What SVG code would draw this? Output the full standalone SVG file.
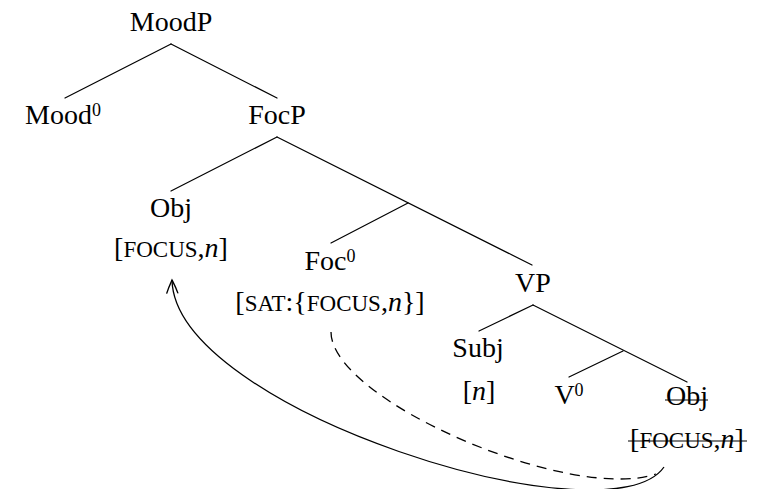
<svg xmlns="http://www.w3.org/2000/svg" width="759" height="489" viewBox="0 0 759 489">
  <style>
    text { font-family: "Liberation Serif", "Times New Roman", serif; font-size: 28px; fill: #000; text-anchor: middle; }
    .sc { font-size: 23px; }
    .it { font-style: italic; }
    .sup { font-size: 18px; }
    .edge { stroke: #000; stroke-width: 1.2; fill: none; stroke-linecap: round; }
    .strike { stroke: #000; stroke-width: 1.1; }
    .move { stroke: #000; stroke-width: 1.3; fill: none; }
    .dash { stroke-dasharray: 10 7; }
  </style>
  <defs>
    <marker id="arrow" markerUnits="userSpaceOnUse" viewBox="-15 -8 17 16" refX="0" refY="0" markerWidth="17" markerHeight="16" orient="auto">
      <path d="M-13,-5.5 C-7,-3.5 -2.5,-1.2 0,0 C-2.5,1.2 -7,3.5 -13,5.5" fill="none" stroke="#000" stroke-width="1.4" stroke-linecap="round"/>
    </marker>
  </defs>
  <rect width="759" height="489" fill="#fff"/>

  <g id="connectors">
    <line class="edge" x1="171" y1="44" x2="65" y2="98"/>
    <line class="edge" x1="171" y1="44" x2="277" y2="98"/>
    <line class="edge" x1="277" y1="137" x2="171" y2="191"/>
    <line class="edge" x1="277" y1="137" x2="532" y2="265"/>
    <line class="edge" x1="408" y1="203" x2="331" y2="243"/>
    <line class="edge" x1="533" y1="305" x2="479" y2="331"/>
    <line class="edge" x1="533" y1="305" x2="687" y2="382"/>
    <line class="edge" x1="623" y1="351" x2="569" y2="377"/>
    <path class="move" d="M664,467 C610,545 175,410 172,280" marker-end="url(#arrow)"/>
    <path class="move dash" d="M331,332 C331,400 570,503 656,474"/>
  </g>

  <g id="MoodP"><text x="171" y="31">MoodP</text></g>
  <g id="Mood0"><text x="63" y="124">Mood<tspan class="sup" dy="-8">0</tspan></text></g>
  <g id="FocP"><text x="277" y="124">FocP</text></g>
  <g id="Obj">
    <text x="171" y="217">Obj</text>
    <text x="171" y="257">[<tspan class="sc">FOCUS</tspan>,<tspan class="it">n</tspan>]</text>
  </g>
  <g id="Foc0">
    <text x="330" y="270">Foc<tspan class="sup" dy="-8">0</tspan></text>
    <text x="330" y="311">[<tspan class="sc">SAT</tspan>:{<tspan class="sc">FOCUS</tspan>,<tspan class="it">n</tspan>}]</text>
  </g>
  <g id="VP"><text x="533" y="292">VP</text></g>
  <g id="Subj">
    <text x="478" y="357">Subj</text>
    <text x="479" y="400">[<tspan class="it">n</tspan>]</text>
  </g>
  <g id="V0"><text x="569" y="404">V<tspan class="sup" dy="-8">0</tspan></text></g>
  <g id="Obj-trace">
    <text x="687" y="405">Obj</text>
    <line class="strike" x1="665" y1="400" x2="708" y2="400"/>
    <text x="687" y="448">[<tspan class="sc">FOCUS</tspan>,<tspan class="it">n</tspan>]</text>
    <line class="strike" x1="628" y1="441" x2="747" y2="441"/>
  </g>
</svg>
